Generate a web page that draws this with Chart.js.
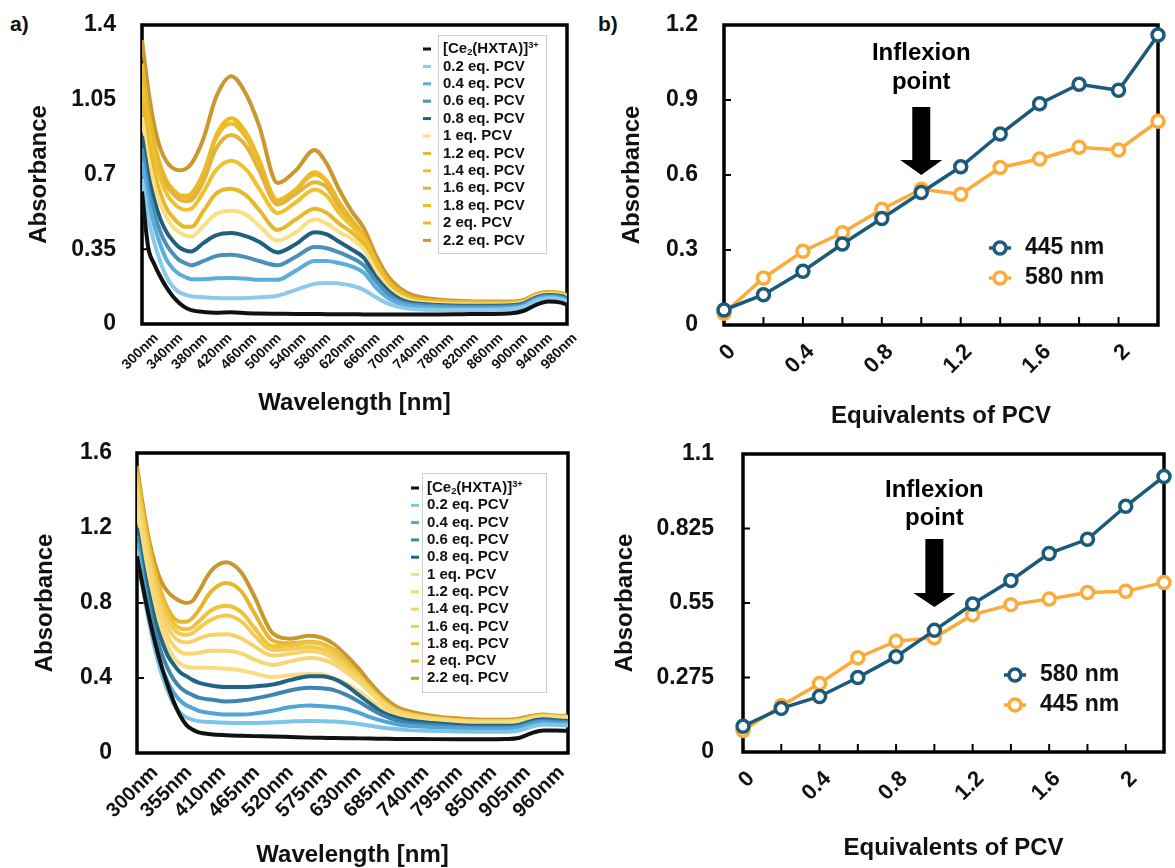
<!DOCTYPE html>
<html>
<head>
<meta charset="utf-8">
<script src="https://cdn.jsdelivr.net/npm/chart.js@4.4.1/dist/chart.umd.min.js"></script>
<style>
  body { margin: 0; background: #fff; width: 1175px; height: 868px; position: relative; overflow: hidden;
         font-family: "Liberation Sans", Arial, Helvetica, sans-serif; }
  canvas { position: absolute; }
  .tag { position: absolute; font-weight: bold; font-size: 21px; color: #111; }
</style>
</head>
<body>
<div class="tag" style="left:10px;top:12px">a)</div>
<div class="tag" style="left:598px;top:12px">b)</div>
<canvas id="specA" width="590" height="430" style="left:0;top:0"></canvas>
<canvas id="titrB" width="585" height="440" style="left:590px;top:0"></canvas>
<canvas id="specC" width="590" height="440" style="left:0;top:428px"></canvas>
<canvas id="titrD" width="585" height="440" style="left:590px;top:428px"></canvas>
<script>
// ---- data ----
const seriesLabels = ["[Ce₂(HXTA)]³⁺", "0.2 eq. PCV", "0.4 eq. PCV", "0.6 eq. PCV", "0.8 eq. PCV",
  "1 eq. PCV", "1.2 eq. PCV", "1.4 eq. PCV", "1.6 eq. PCV", "1.8 eq. PCV", "2 eq. PCV", "2.2 eq. PCV"];

// top spectra (a)
const wavelengthsA = [300,310,320,330,340,350,360,370,380,400,420,445,470,490,520,550,580,600,620,640,660,680,700,720,740,780,820,860,900,920,940,960,980,990];
const xTicksA = [300,340,380,420,460,500,540,580,620,660,700,740,780,820,860,900,940,980];
const yTicksA = [0, 0.35, 0.7, 1.05, 1.4];
const specA_ce = [0.62,0.36,0.28,0.22,0.17,0.13,0.10,0.078,0.065,0.056,0.053,0.055,0.05,0.049,0.048,0.047,0.047,0.046,0.046,0.046,0.045,0.045,0.045,0.045,0.045,0.045,0.046,0.047,0.05,0.062,0.09,0.105,0.1,0.09];
const specA_02 = [0.68,0.50,0.38,0.29,0.22,0.175,0.15,0.138,0.13,0.125,0.122,0.121,0.122,0.125,0.132,0.16,0.188,0.192,0.19,0.18,0.16,0.125,0.095,0.078,0.07,0.066,0.065,0.066,0.07,0.08,0.108,0.12,0.115,0.105];
const specA_04 = [0.76,0.58,0.46,0.37,0.30,0.26,0.235,0.22,0.21,0.21,0.214,0.215,0.212,0.207,0.207,0.25,0.295,0.295,0.285,0.27,0.24,0.17,0.12,0.095,0.083,0.076,0.073,0.073,0.076,0.086,0.115,0.126,0.121,0.111];
const specA_06 = [0.82,0.64,0.52,0.43,0.37,0.33,0.30,0.285,0.275,0.295,0.318,0.324,0.312,0.295,0.275,0.315,0.36,0.355,0.335,0.31,0.275,0.2,0.14,0.105,0.092,0.084,0.081,0.081,0.083,0.092,0.12,0.131,0.126,0.116];
const specA_08 = [0.88,0.70,0.58,0.49,0.43,0.39,0.36,0.345,0.34,0.38,0.415,0.426,0.41,0.385,0.335,0.375,0.43,0.42,0.385,0.35,0.31,0.22,0.155,0.115,0.098,0.089,0.086,0.086,0.088,0.097,0.125,0.136,0.131,0.121];
const specA_10 = [0.97,0.78,0.65,0.56,0.50,0.455,0.43,0.415,0.41,0.46,0.515,0.53,0.51,0.46,0.39,0.43,0.49,0.47,0.43,0.40,0.35,0.25,0.17,0.13,0.107,0.096,0.092,0.091,0.093,0.101,0.13,0.141,0.136,0.126];
const specA_12 = [1.05,0.85,0.71,0.61,0.54,0.50,0.47,0.455,0.455,0.53,0.61,0.633,0.60,0.535,0.44,0.49,0.54,0.52,0.47,0.43,0.37,0.26,0.18,0.135,0.112,0.1,0.095,0.093,0.095,0.103,0.133,0.143,0.138,0.128];
const specA_14 = [1.12,0.92,0.78,0.68,0.61,0.57,0.545,0.535,0.54,0.62,0.72,0.764,0.72,0.635,0.52,0.57,0.63,0.60,0.52,0.46,0.395,0.28,0.19,0.14,0.115,0.103,0.098,0.096,0.097,0.105,0.135,0.145,0.14,0.13];
const specA_16 = [1.18,0.97,0.82,0.72,0.65,0.61,0.585,0.575,0.58,0.67,0.82,0.885,0.83,0.72,0.56,0.61,0.664,0.64,0.55,0.48,0.405,0.29,0.195,0.145,0.118,0.105,0.1,0.098,0.099,0.107,0.137,0.147,0.142,0.132];
const specA_18 = [1.22,1.0,0.85,0.74,0.67,0.63,0.605,0.595,0.60,0.70,0.88,0.963,0.89,0.77,0.57,0.63,0.711,0.67,0.57,0.49,0.415,0.295,0.2,0.15,0.12,0.107,0.102,0.1,0.1,0.108,0.138,0.148,0.143,0.133];
const specA_20 = [1.20,0.99,0.84,0.73,0.66,0.62,0.60,0.60,0.61,0.71,0.87,0.939,0.87,0.76,0.58,0.63,0.70,0.665,0.57,0.49,0.415,0.295,0.2,0.15,0.12,0.107,0.102,0.1,0.1,0.108,0.138,0.148,0.143,0.133];
const specA_22 = [1.33,1.10,0.93,0.82,0.76,0.73,0.72,0.725,0.75,0.87,1.06,1.16,1.07,0.93,0.66,0.72,0.815,0.75,0.63,0.53,0.45,0.32,0.22,0.165,0.135,0.115,0.108,0.105,0.105,0.113,0.14,0.15,0.145,0.135];
const colorsA = ["#111111","#8cc9ea","#5aaedb","#4b90b8","#20607f","#fadf85","#e6b82a","#efc12a","#e2b43c","#edba22","#e9bc2c","#c9982f"];

// bottom spectra (c)
const wavelengthsC = [300,310,320,330,340,350,360,370,380,390,400,420,445,470,490,520,550,580,600,620,640,660,680,700,720,740,780,820,860,900,920,940,960,980,1000];
const xTicksC = [300,355,410,465,520,575,630,685,740,795,850,905,960];
const yTicksC = [0, 0.4, 0.8, 1.2, 1.6];
const specC_ce = [1.05,0.88,0.72,0.58,0.46,0.36,0.27,0.20,0.15,0.125,0.11,0.10,0.095,0.092,0.09,0.088,0.085,0.082,0.081,0.08,0.079,0.078,0.077,0.076,0.075,0.075,0.074,0.074,0.074,0.075,0.08,0.105,0.12,0.12,0.118];
const specC_02 = [1.08,0.87,0.69,0.54,0.42,0.33,0.26,0.215,0.19,0.178,0.17,0.165,0.161,0.16,0.16,0.163,0.168,0.171,0.17,0.168,0.163,0.155,0.145,0.135,0.128,0.122,0.118,0.115,0.113,0.113,0.12,0.14,0.152,0.15,0.147];
const specC_04 = [1.12,0.91,0.73,0.58,0.46,0.38,0.32,0.28,0.255,0.24,0.225,0.213,0.205,0.205,0.21,0.225,0.245,0.253,0.25,0.245,0.235,0.215,0.19,0.17,0.155,0.145,0.138,0.133,0.13,0.13,0.136,0.155,0.165,0.162,0.158];
const specC_06 = [1.16,0.95,0.78,0.64,0.53,0.45,0.39,0.35,0.325,0.31,0.295,0.285,0.275,0.28,0.29,0.31,0.335,0.348,0.345,0.335,0.31,0.275,0.235,0.2,0.175,0.16,0.15,0.14,0.137,0.137,0.143,0.162,0.172,0.168,0.163];
const specC_08 = [1.20,1.00,0.84,0.70,0.60,0.52,0.47,0.43,0.41,0.39,0.375,0.36,0.352,0.352,0.355,0.365,0.39,0.409,0.41,0.395,0.36,0.31,0.26,0.215,0.19,0.175,0.16,0.15,0.145,0.145,0.15,0.17,0.18,0.175,0.17];
const specC_10 = [1.30,1.08,0.90,0.76,0.65,0.57,0.51,0.475,0.46,0.455,0.455,0.455,0.449,0.44,0.425,0.405,0.415,0.422,0.42,0.40,0.37,0.33,0.28,0.235,0.205,0.19,0.175,0.165,0.16,0.16,0.165,0.18,0.19,0.187,0.183];
const specC_12 = [1.35,1.13,0.95,0.81,0.70,0.62,0.57,0.54,0.53,0.53,0.535,0.545,0.546,0.53,0.50,0.47,0.49,0.507,0.50,0.475,0.43,0.38,0.32,0.26,0.22,0.20,0.18,0.17,0.165,0.165,0.17,0.185,0.195,0.19,0.186];
const specC_14 = [1.40,1.18,1.00,0.86,0.75,0.67,0.62,0.595,0.59,0.595,0.61,0.63,0.633,0.61,0.57,0.52,0.53,0.544,0.535,0.50,0.45,0.395,0.33,0.265,0.225,0.205,0.183,0.172,0.167,0.167,0.172,0.187,0.197,0.192,0.188];
const specC_16 = [1.44,1.22,1.04,0.90,0.79,0.71,0.66,0.635,0.63,0.64,0.665,0.71,0.733,0.70,0.63,0.55,0.555,0.565,0.555,0.52,0.465,0.405,0.335,0.27,0.228,0.207,0.185,0.174,0.168,0.168,0.173,0.188,0.198,0.193,0.19];
const specC_18 = [1.47,1.25,1.07,0.93,0.82,0.74,0.69,0.665,0.66,0.67,0.70,0.76,0.785,0.75,0.67,0.57,0.575,0.589,0.58,0.54,0.48,0.415,0.34,0.275,0.23,0.21,0.187,0.175,0.17,0.17,0.175,0.19,0.20,0.195,0.19];
const specC_20 = [1.50,1.28,1.10,0.96,0.85,0.77,0.72,0.70,0.70,0.72,0.76,0.86,0.907,0.86,0.75,0.60,0.585,0.593,0.585,0.55,0.49,0.42,0.345,0.28,0.233,0.212,0.188,0.176,0.17,0.17,0.176,0.19,0.20,0.196,0.19];
const specC_22 = [1.53,1.31,1.13,1.00,0.91,0.86,0.83,0.81,0.80,0.81,0.86,0.97,1.017,0.96,0.84,0.64,0.61,0.626,0.615,0.58,0.52,0.45,0.37,0.30,0.25,0.225,0.198,0.185,0.178,0.178,0.183,0.197,0.205,0.20,0.195];
const colorsC = ["#111111","#7ec4ea","#4ea5d6","#3e86ae","#1f6386","#f9db80","#f7d774","#f5d36a","#f2cb52","#eec23a","#e6b72e","#c8982e"];

// titrations (b, d)
const equivalents = [0, 0.2, 0.4, 0.6, 0.8, 1, 1.2, 1.4, 1.6, 1.8, 2, 2.2];
const yTicksB = [0, 0.3, 0.6, 0.9, 1.2];
const absB_445 = [0.06, 0.121, 0.215, 0.324, 0.426, 0.53, 0.633, 0.764, 0.885, 0.963, 0.939, 1.16];
const absB_580 = [0.047, 0.188, 0.295, 0.369, 0.463, 0.543, 0.523, 0.63, 0.664, 0.711, 0.70, 0.815];
const yTicksD = [0, 0.275, 0.55, 0.825, 1.1];
const absD_580 = [0.095, 0.161, 0.205, 0.275, 0.352, 0.449, 0.546, 0.633, 0.733, 0.785, 0.907, 1.017];
const absD_445 = [0.079, 0.171, 0.253, 0.348, 0.409, 0.422, 0.507, 0.544, 0.565, 0.589, 0.593, 0.626];

const FONT = '"Liberation Sans", Arial, Helvetica, sans-serif';
const BLUE = "#1b5a7a", ORANGE = "#fbab3c";
Chart.defaults.font.family = FONT;
Chart.defaults.color = "#111";

const bold = (size, lh) => ({ family: FONT, size: size, weight: "bold", lineHeight: lh || 1.2 });

// black frame + inward ticks
const frame = {
  id: "frame",
  beforeDatasetsDraw(chart, args, o) {
    const { ctx, chartArea: a, scales } = chart;
    ctx.save();
    ctx.strokeStyle = "#000";
    ctx.lineWidth = 2;
    ctx.beginPath();
    scales.y.ticks.forEach(t => {
      const py = scales.y.getPixelForValue(t.value);
      if (py > a.top + 3 && py < a.bottom - 3) { ctx.moveTo(a.left, py); ctx.lineTo(a.left + 7, py); }
    });
    if (o.xTicks) {
      scales.x.ticks.forEach(t => {
        const px = scales.x.getPixelForValue(t.value);
        if (px > a.left + 3 && px < a.right - 3) { ctx.moveTo(px, a.bottom); ctx.lineTo(px, a.bottom - 8); }
      });
    }
    ctx.stroke();
    ctx.lineWidth = 3.5;
    ctx.strokeRect(a.left, a.top, a.width, a.height);
    ctx.restore();
  }
};

// text with sub / superscript characters
const SUB = { "₂": "2" }, SUP = { "³": "3", "⁺": "+" };
function richText(ctx, text, x, y, size) {
  for (const ch of text) {
    let c = ch, f = size, dy = 0;
    if (SUB[ch]) { c = SUB[ch]; f = size * 0.62; dy = size * 0.22; }
    else if (SUP[ch]) { c = SUP[ch]; f = size * 0.62; dy = -size * 0.25; }
    ctx.font = "bold " + f + "px " + FONT;
    ctx.fillText(c, x, y + dy);
    x += ctx.measureText(c).width;
  }
}

const specLegend = {
  id: "specLegend",
  afterDatasetsDraw(chart, args, o) {
    const ctx = chart.ctx;
    ctx.save();
    ctx.strokeStyle = "#cfcfcf";
    ctx.lineWidth = 1;
    ctx.strokeRect(o.box[0] + 0.5, o.box[1] + 0.5, o.box[2], o.box[3]);
    ctx.textBaseline = "middle";
    ctx.fillStyle = "#111";
    chart.data.datasets.forEach((ds, i) => {
      const y = o.y0 + i * o.dy;
      ctx.strokeStyle = ds.borderColor;
      ctx.lineWidth = 3;
      ctx.beginPath();
      ctx.moveTo(o.sx[0], y); ctx.lineTo(o.sx[1], y);
      ctx.stroke();
      richText(ctx, ds.label, o.tx, y, 15);
    });
    ctx.restore();
  }
};

const pointLegend = {
  id: "pointLegend",
  afterDatasetsDraw(chart, args, o) {
    const ctx = chart.ctx;
    ctx.save();
    ctx.textBaseline = "middle";
    chart.data.datasets.forEach((ds, i) => {
      const y = o.rows[i];
      ctx.strokeStyle = ds.borderColor;
      ctx.lineWidth = 3.5;
      ctx.beginPath();
      ctx.moveTo(o.mx - 11, y); ctx.lineTo(o.mx + 11, y);
      ctx.stroke();
      ctx.beginPath();
      ctx.arc(o.mx, y, 6, 0, Math.PI * 2);
      ctx.fillStyle = "#fff";
      ctx.fill();
      ctx.stroke();
      ctx.fillStyle = "#111";
      ctx.font = "bold 23px " + FONT;
      ctx.fillText(ds.label, o.tx, y);
    });
    ctx.restore();
  }
};

const inflexion = {
  id: "inflexion",
  afterDatasetsDraw(chart, args, o) {
    const { ctx, scales: { x, y } } = chart;
    const cx = x.getPixelForValue(o.at);
    ctx.save();
    ctx.fillStyle = "#000";
    ctx.font = "bold 24px " + FONT;
    ctx.textAlign = "center";
    ctx.textBaseline = "middle";
    ctx.fillText("Inflexion", cx, y.getPixelForValue(o.line1));
    ctx.fillText("point", cx, y.getPixelForValue(o.line2));
    const top = y.getPixelForValue(o.shaftTop), base = y.getPixelForValue(o.headBase), tip = y.getPixelForValue(o.tip);
    ctx.beginPath();
    ctx.moveTo(cx - 9, top); ctx.lineTo(cx + 9, top); ctx.lineTo(cx + 9, base); ctx.lineTo(cx + 21, base);
    ctx.lineTo(cx, tip); ctx.lineTo(cx - 21, base); ctx.lineTo(cx - 9, base); ctx.closePath();
    ctx.fill();
    ctx.restore();
  }
};

// fixed axis sizes so the plot areas line up with the figure
const fixX = h => s => { s.height = h; s.paddingLeft = 0; s.paddingRight = 0; };
const fixY = w => s => { s.width = w; s.paddingTop = 0; s.paddingBottom = 0; };

function spectrum(id, waves, series, colors, xTicks, xMax, yTicks, yMax, L) {
  return new Chart(document.getElementById(id), {
    type: "line",
    data: {
      datasets: series.map((s, i) => ({
        label: seriesLabels[i],
        data: waves.map((w, j) => ({ x: w, y: s[j] })),
        borderColor: colors[i],
        borderWidth: 4,
        pointRadius: 0,
        cubicInterpolationMode: "monotone",
        fill: false
      }))
    },
    options: {
      responsive: false,
      animation: false,
      layout: { padding: L.pad },
      plugins: { legend: { display: false }, tooltip: { enabled: false }, specLegend: L.legend, frame: {} },
      scales: {
        x: {
          type: "linear", min: 300, max: xMax,
          afterBuildTicks: s => { s.ticks = xTicks.map(v => ({ value: v })); },
          afterFit: fixX(L.xh),
          grid: { display: false, drawTicks: false }, border: { display: false },
          ticks: { callback: v => v + "nm", minRotation: 45, maxRotation: 45, autoSkip: false,
                   font: bold(L.xfont), color: "#111", padding: L.xpad, labelOffset: L.xoff },
          title: { display: true, text: "Wavelength [nm]", font: bold(24, 1), padding: 0, color: "#111" }
        },
        y: {
          min: 0, max: yMax,
          afterBuildTicks: s => { s.ticks = yTicks.map(v => ({ value: v })); },
          afterFit: fixY(L.yw),
          grid: { display: false, drawTicks: false }, border: { display: false },
          ticks: { callback: v => String(v), font: bold(23), color: "#111", padding: L.ypad },
          title: { display: true, text: "Absorbance", font: bold(24, 1), padding: 0, color: "#111" }
        }
      }
    },
    plugins: [frame, specLegend]
  });
}

function titration(id, sets, yTicks, yMax, L) {
  return new Chart(document.getElementById(id), {
    type: "line",
    data: {
      labels: equivalents.map(String),
      datasets: sets.map(s => ({
        label: s.label, data: s.data,
        borderColor: s.color, borderWidth: 3.5,
        pointRadius: 6, pointBorderWidth: 3.5, pointBackgroundColor: "#fff", pointBorderColor: s.color,
        tension: 0, clip: false, fill: false
      }))
    },
    options: {
      responsive: false,
      animation: false,
      layout: { padding: L.pad },
      plugins: { legend: { display: false }, tooltip: { enabled: false },
                 frame: { xTicks: true }, pointLegend: L.legend, inflexion: L.note },
      scales: {
        x: {
          afterFit: fixX(L.xh),
          grid: { display: false, drawTicks: false }, border: { display: false },
          ticks: { callback: function (v, i) { return i % 2 === 0 ? this.getLabelForValue(v) : ""; },
                   minRotation: 45, maxRotation: 45, autoSkip: false,
                   font: bold(22), color: "#111", padding: L.xpad, labelOffset: L.xoff },
          title: { display: true, text: "Equivalents of PCV", font: bold(24, 1), padding: 0, color: "#111" }
        },
        y: {
          min: 0, max: yMax,
          afterBuildTicks: s => { s.ticks = yTicks.map(v => ({ value: v })); },
          afterFit: fixY(L.yw),
          grid: { display: false, drawTicks: false }, border: { display: false },
          ticks: { callback: v => String(v), font: bold(23), color: "#111", padding: L.ypad },
          title: { display: true, text: "Absorbance", font: bold(24, 1), padding: 0, color: "#111" }
        }
      }
    },
    plugins: [frame, pointLegend, inflexion]
  });
}

spectrum("specA", wavelengthsA,
  [specA_ce, specA_02, specA_04, specA_06, specA_08, specA_10, specA_12, specA_14, specA_16, specA_18, specA_20, specA_22],
  colorsA, xTicksA, 990, yTicksA, 1.4,
  { pad: { left: 27, top: 25, right: 23, bottom: 15 }, yw: 115, xh: 91, ypad: 26, xpad: 6, xoff: 14, xfont: 14,
    legend: { box: [438, 35, 108, 218], sx: [423, 431], tx: 443, y0: 49, dy: 17.4 } });

spectrum("specC", wavelengthsC,
  [specC_ce, specC_02, specC_04, specC_06, specC_08, specC_10, specC_12, specC_14, specC_16, specC_18, specC_20, specC_22],
  colorsC, xTicksC, 1000, yTicksC, 1.6,
  { pad: { left: 33, top: 25, right: 22, bottom: 1 }, yw: 104, xh: 114, ypad: 25, xpad: 8, xoff: 18, xfont: 20,
    legend: { box: [422, 45, 124, 219], sx: [411, 419], tx: 427, y0: 60, dy: 17.3 } });

titration("titrB",
  [{ label: "445 nm", data: absB_445, color: BLUE }, { label: "580 nm", data: absB_580, color: ORANGE }],
  yTicksB, 1.2,
  { pad: { left: 30, top: 25, right: 17, bottom: 12 }, yw: 104, xh: 103, ypad: 26, xpad: 14, xoff: 8,
    legend: { mx: 410, tx: 435, rows: [248, 278] },
    note: { at: 5, line1: 1.088, line2: 0.972, shaftTop: 0.872, headBase: 0.66, tip: 0.60 } });

titration("titrD",
  [{ label: "580 nm", data: absD_580, color: BLUE }, { label: "445 nm", data: absD_445, color: ORANGE }],
  yTicksD, 1.1,
  { pad: { left: 23, top: 26, right: 11, bottom: 8 }, yw: 130, xh: 108, ypad: 29, xpad: 14, xoff: 8,
    legend: { mx: 425, tx: 450, rows: [247, 277] },
    note: { at: 5, line1: 0.967, line2: 0.864, shaftTop: 0.786, headBase: 0.587, tip: 0.535 } });
</script>
</body>
</html>
